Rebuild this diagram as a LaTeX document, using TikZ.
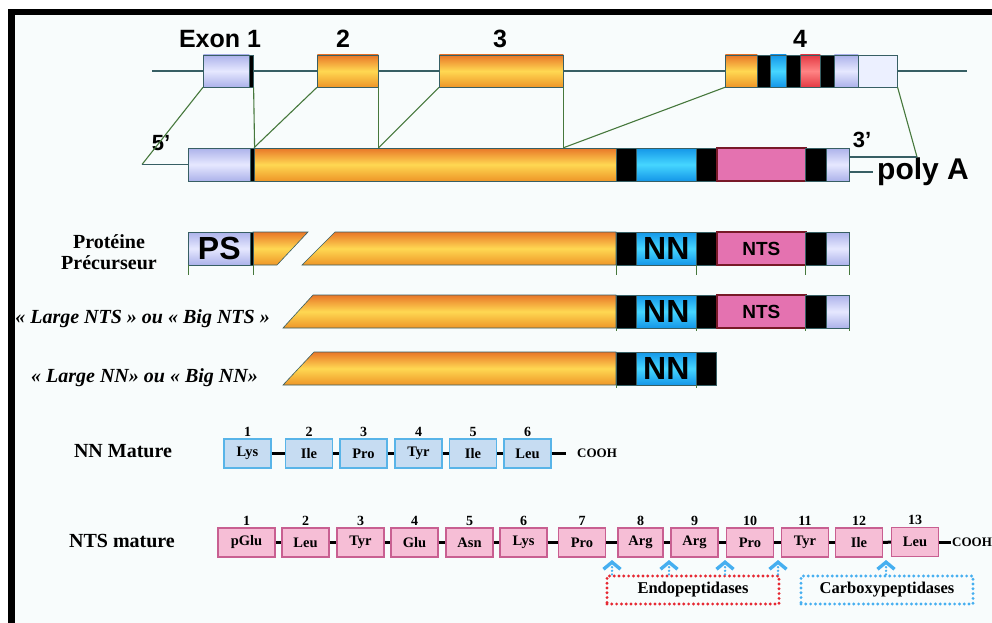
\documentclass[tikz,border=0pt]{standalone}
\usepackage{fontspec}
\setmainfont{Liberation Serif}
\setsansfont{Liberation Sans}
\usetikzlibrary{arrows.meta}

\definecolor{bgpage}{RGB}{248,252,252}
\definecolor{barline}{RGB}{55,95,100}
\definecolor{splice}{RGB}{70,120,60}
\definecolor{orgtop}{RGB}{232,118,40}
\definecolor{orgmid}{RGB}{255,216,82}
\definecolor{orgbot}{RGB}{238,150,40}
\definecolor{lav}{RGB}{172,178,234}
\definecolor{lavlt}{RGB}{230,232,255}
\definecolor{palelav}{RGB}{236,240,255}
\definecolor{nnblue}{RGB}{20,150,232}
\definecolor{nnblt}{RGB}{70,214,255}
\definecolor{ntspink}{RGB}{228,114,176}
\definecolor{ntsedge}{RGB}{120,25,40}
\definecolor{exred}{RGB}{228,58,68}
\definecolor{exredlt}{RGB}{255,132,132}
\definecolor{aablue}{RGB}{198,220,242}
\definecolor{aabluedge}{RGB}{88,180,232}
\definecolor{aapink}{RGB}{246,190,214}
\definecolor{aapinkedge}{RGB}{200,95,145}
\definecolor{cutblue}{RGB}{70,175,240}
\definecolor{endored}{RGB}{230,40,50}

\begin{document}
\begin{tikzpicture}[x=1pt, y=-1pt,
  seg/.style={rectangle, draw=barline, line width=0.6pt, inner sep=0pt,
    minimum height=33pt, anchor=west},
  orng/.style={seg, top color=orgtop, bottom color=orgbot, middle color=orgmid},
  orngp/.style={draw=barline, line width=0.6pt, top color=orgtop,
    bottom color=orgbot, middle color=orgmid},
  lavd/.style={seg, top color=lav, bottom color=lav, middle color=lavlt},
  pale/.style={seg, fill=palelav},
  blk/.style={seg, fill=black},
  blu/.style={seg, top color=nnblue, bottom color=nnblue, middle color=nnblt,
    font=\sffamily\bfseries\fontsize{32}{34}\selectfont},
  redx/.style={seg, top color=exred, bottom color=exred, middle color=exredlt},
  pnk/.style={seg, fill=ntspink, draw=ntsedge, line width=1.6pt,
    font=\sffamily\bfseries\fontsize{19}{21}\selectfont},
  exlbl/.style={font=\sffamily\bfseries\fontsize{25}{28}\selectfont,
    anchor=base, inner sep=0pt},
  rowlbl/.style={font=\bfseries\fontsize{20}{22}\selectfont, anchor=base,
    inner sep=0pt},
  splice/.style={draw=splice, line width=1.1pt},
  lead/.style={draw=barline, line width=1.2pt},
  tick/.style={draw=splice, line width=1pt},
  aann/.style={rectangle, draw=aabluedge, fill=aablue, line width=1.2pt,
    minimum width=47pt, minimum height=29pt, inner sep=0pt,
    font=\bfseries\fontsize{14.5}{16}\selectfont},
  aants/.style={aann, draw=aapinkedge, fill=aapink},
  num/.style={font=\bfseries\fontsize{14}{16}\selectfont, inner sep=2pt},
  pep/.style={line width=3pt},
  cooh/.style={font=\bfseries\fontsize{13}{15}\selectfont, anchor=west,
    inner sep=0pt},
  cut/.style={draw=cutblue, line width=2.6pt, dash pattern=on 0pt off 3.6pt,
    line cap=round, -{Straight Barb[length=7pt, width=17pt, line width=3.4pt]}},
  enzbox/.style={rectangle, line width=3.2pt, dash pattern=on 0pt off 4.8pt,
    line cap=round, minimum width=172pt, minimum height=28pt,
    font=\bfseries\fontsize{16.5}{18}\selectfont},
]
\useasboundingbox (0,0) rectangle (992,623);

% Frame
\fill[white] (0,0) rectangle (992,623);
\fill[black] (8,9) rectangle (992,623);
\fill[bgpage] (15,15) rectangle (992,623);

% Gene
\draw[lead] (152,71) -- (967,71);
\node[lavd, minimum height=32pt, minimum width=46pt] (e1a) at (203,71) {};
\node[blk, minimum height=32pt, minimum width=4pt] (e1b) at (249,71) {};
\node[orng, minimum height=32pt, minimum width=61pt] (e2) at (317,71) {};
\node[orng, minimum height=32pt, minimum width=124pt] (e3) at (439,71) {};
\node[orng, minimum height=32pt, minimum width=32pt] (e4a) at (725,71) {};
\node[blk, minimum height=32pt, minimum width=13pt] (e4b) at (757,71) {};
\node[blu, minimum height=32pt, minimum width=16pt] (e4c) at (770,71) {};
\node[blk, minimum height=32pt, minimum width=14pt] (e4d) at (786,71) {};
\node[redx, minimum height=32pt, minimum width=20pt] (e4e) at (800,71) {};
\node[blk, minimum height=32pt, minimum width=14pt] (e4f) at (820,71) {};
\node[lavd, minimum height=32pt, minimum width=24pt] (e4g) at (834,71) {};
\node[pale, minimum height=32pt, minimum width=39pt] (e4h) at (858,71) {};

\node[exlbl] (lx1) at (220,48) {Exon 1};
\node[exlbl] (lx2) at (343,48) {2};
\node[exlbl] (lx3) at (500,48) {3};
\node[exlbl] (lx4) at (800,48) {4};

% ARNm
\node[lavd, minimum width=62pt] (m1) at (188,164.5) {};
\node[blk, minimum width=4pt] (m1b) at (250,164.5) {};
\node[orng, minimum width=362pt] (m2) at (254,164.5) {};
\node[blk, minimum width=20pt] (m3) at (616,164.5) {};
\node[blu, minimum width=60pt] (m4) at (636,164.5) {};
\node[blk, minimum width=20pt] (m5) at (696,164.5) {};
\node[pnk, minimum width=89pt] (m6) at (716,164.5) {};
\node[blk, minimum width=21pt] (m7) at (805,164.5) {};
\node[lavd, minimum width=23pt] (m8) at (826,164.5) {};

\node[exlbl, font=\sffamily\bfseries\fontsize{22}{24}\selectfont] (l5) at (161,150) {5'};
\node[exlbl, font=\sffamily\bfseries\fontsize{22}{24}\selectfont] (l3) at (862,147) {3'};
\node[exlbl, font=\sffamily\bfseries\fontsize{30}{32}\selectfont, anchor=west]
  (polya) at (877,172) {poly A};

% Splicing
\coordinate (five) at (142,164.5);
\coordinate (three) at (917,157);
\draw[splice] (e1a.south west) -- (five);
\draw[lead] (five) -- (m1.west);
\draw[splice] (e1b.south east) -- (m1b.north east);
\draw[splice] (e2.south west) -- (m2.north west);
\draw[splice] (e2.south east) -- (e2.south east |- m2.north);
\draw[splice] (e3.south west) -- (e2.south east |- m2.north);
\draw[splice] (e3.south east) -- (e3.south east |- m2.north);
\draw[splice] (e4a.south west) -- (e3.south east |- m2.north);
\draw[splice] (e4h.south east) -- (three);
\draw[lead] (three) -- (m8.east |- three);
\draw[lead] (m8.east |- polya.west) -- ([xshift=-4pt]polya.west);

% Proteine precurseur
\shadedraw[orngp] (253,232) -- (308,232) -- (277,265) -- (253,265) -- cycle;
\shadedraw[orngp] (335,232) -- (616,232) -- (616,265) -- (302,265) -- cycle;
\node[lavd, minimum width=62pt, font=\sffamily\bfseries\fontsize{32}{34}\selectfont]
  (ps) at (188,248.5) {PS};
\node[blk, minimum width=3pt] (psb) at (250,248.5) {};
\node[blk, minimum width=20pt] (p3) at (616,248.5) {};
\node[blu, minimum width=60pt] (p4) at (636,248.5) {NN};
\node[blk, minimum width=20pt] (p5) at (696,248.5) {};
\node[pnk, minimum width=89pt] (p6) at (716,248.5) {NTS};
\node[blk, minimum width=21pt] (p7) at (805,248.5) {};
\node[lavd, minimum width=23pt] (p8) at (826,248.5) {};

\draw[tick] (ps.south west) -- ++(0,10);
\draw[tick] (psb.south east) -- ++(0,10);
\draw[tick] (p3.south west) -- ++(0,10);
\draw[tick] (p5.south west) -- ++(0,10);
\draw[tick] (p7.south west) -- ++(0,10);
\draw[tick] (p8.south east) -- ++(0,10);

\node[rowlbl] (lprot) at (109,248) {Protéine};
\node[rowlbl] (lprec) at (109,269) {Précurseur};

% Large NTS
\shadedraw[orngp] (283,328) -- (313,295) -- (616,295) -- (616,328) -- cycle;
\node[blk, minimum width=20pt] (t3) at (616,311.5) {};
\node[blu, minimum width=60pt] (t4) at (636,311.5) {NN};
\node[blk, minimum width=20pt] (t5) at (696,311.5) {};
\node[pnk, minimum width=89pt] (t6) at (716,311.5) {NTS};
\node[blk, minimum width=21pt] (t7) at (805,311.5) {};
\node[lavd, minimum width=23pt] (t8) at (826,311.5) {};
\draw[tick] (t3.south west) -- ++(0,3);
\draw[tick] (t5.south west) -- ++(0,3);
\draw[tick] (t7.south west) -- ++(0,3);
\draw[tick] (t8.south east) -- ++(0,3);

\node[rowlbl, font=\bfseries\itshape\fontsize{20}{22}\selectfont, anchor=base east]
  (lbignts) at (270,323) {« Large NTS » ou « Big NTS »};

% Large NN
\shadedraw[orngp] (283,385) -- (314,352) -- (616,352) -- (616,385) -- cycle;
\node[blk, minimum width=20pt] (n3) at (616,368.5) {};
\node[blu, minimum width=60pt] (n4) at (636,368.5) {NN};
\node[blk, minimum width=20pt] (n5) at (696,368.5) {};
\draw[tick] (n3.south west) -- ++(0,3);
\draw[tick] (n5.south west) -- ++(0,3);

\node[rowlbl, font=\bfseries\itshape\fontsize{20}{22}\selectfont, anchor=base east]
  (lbignn) at (258,382) {« Large NN» ou « Big NN»};

% NN mature
\node[rowlbl] (lnn) at (123,457) {NN Mature};
\node[aann, label={[num]above:1}] (nn1) at (247.5,453.5) {Lys};
\node[aann, label={[num]above:2}] (nn2) at (309,453.5) {Ile};
\node[aann, label={[num]above:3}] (nn3) at (363.5,453.5) {Pro};
\node[aann, label={[num]above:4}] (nn4) at (418.5,453.5) {Tyr};
\node[aann, label={[num]above:5}] (nn5) at (473,453.5) {Ile};
\node[aann, label={[num]above:6}] (nn6) at (527.5,453.5) {Leu};
\node[cooh] (cooh1) at (577,453.5) {COOH};
\draw[pep] (nn1) -- (nn2);
\draw[pep] (nn2) -- (nn3);
\draw[pep] (nn3) -- (nn4);
\draw[pep] (nn4) -- (nn5);
\draw[pep] (nn5) -- (nn6);
\draw[pep, shorten >=11pt] (nn6) -- (cooh1);

% NTS mature
\node[rowlbl] (lnts) at (122,547) {NTS mature};
\node[aants, minimum width=57pt, label={[num]above:1}] (nt1) at (246.5,542.5) {pGlu};
\node[aants, label={[num]above:2}] (nt2) at (305.5,542.5) {Leu};
\node[aants, label={[num]above:3}] (nt3) at (360.5,542.5) {Tyr};
\node[aants, label={[num]above:4}] (nt4) at (414.5,542.5) {Glu};
\node[aants, label={[num]above:5}] (nt5) at (469.5,542.5) {Asn};
\node[aants, label={[num]above:6}] (nt6) at (523.5,542.5) {Lys};
\node[aants, label={[num]above:7}] (nt7) at (582,542.5) {Pro};
\node[aants, minimum width=45pt, label={[num]above:8}] (nt8) at (640.5,542.5) {Arg};
\node[aants, label={[num]above:9}] (nt9) at (694.5,542.5) {Arg};
\node[aants, label={[num]above:10}] (nt10) at (750,542.5) {Pro};
\node[aants, label={[num]above:11}] (nt11) at (805,542.5) {Tyr};
\node[aants, label={[num]above:12}] (nt12) at (859,542.5) {Ile};
\node[aants, label={[num]above:13}] (nt13) at (915,542) {Leu};
\node[cooh] (cooh2) at (952,542) {COOH};
\draw[pep] (nt1) -- (nt2);
\draw[pep] (nt2) -- (nt3);
\draw[pep] (nt3) -- (nt4);
\draw[pep] (nt4) -- (nt5);
\draw[pep] (nt5) -- (nt6);
\draw[pep] (nt6) -- (nt7);
\draw[pep] (nt7) -- (nt8);
\draw[pep] (nt8) -- (nt9);
\draw[pep] (nt9) -- (nt10);
\draw[pep] (nt10) -- (nt11);
\draw[pep] (nt11) -- (nt12);
\draw[pep] (nt12) -- (nt13);
\draw[pep, shorten >=1pt] (nt13) -- (cooh2);

% Enzymes
\node[enzbox, draw=endored] (endo) at (693,590) {Endopeptidases};
\node[enzbox, draw=cutblue] (carbo) at (887,590) {Carboxypeptidases};
\coordinate (cut1) at (612,560);
\coordinate (cut2) at (669,560);
\coordinate (cut3) at (725,560);
\coordinate (cut4) at (778,560);
\coordinate (cut5) at (886,560);
\draw[cut] (cut1 |- endo.north) -- (cut1);
\draw[cut] (cut2 |- endo.north) -- (cut2);
\draw[cut] (cut3 |- endo.north) -- (cut3);
\draw[cut] (cut4 |- endo.north) -- (cut4);
\draw[cut] (cut5 |- carbo.north) -- (cut5);

\end{tikzpicture}
\end{document}
